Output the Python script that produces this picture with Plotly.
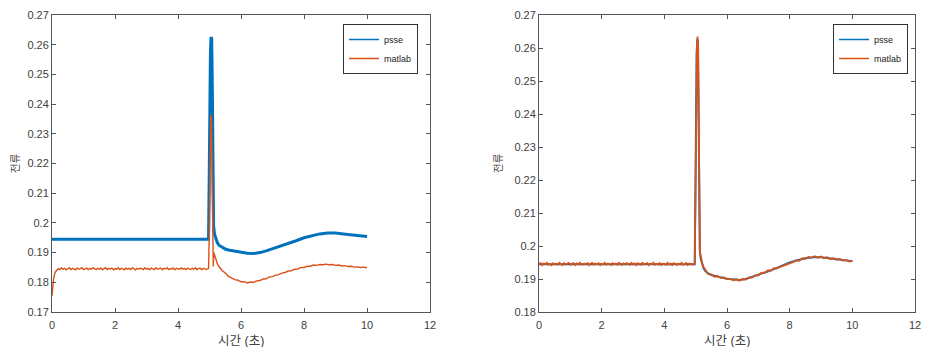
import numpy as np
import plotly.graph_objects as go

# ---------------- data ----------------
# PSSE result (same in both panels)
psse_t = [0.0, 4.97, 4.99, 5.01, 5.03, 5.05, 5.07, 5.09, 5.11, 5.13, 5.16, 5.2, 5.25,
          5.3, 5.4, 5.5, 5.6, 5.8, 6.0, 6.2, 6.4, 6.6, 6.8, 7.0, 7.25, 7.5, 7.75,
          8.0, 8.25, 8.5, 8.75, 9.0, 9.25, 9.5, 9.75, 10.0]
psse_v = [0.1945, 0.1945, 0.2150, 0.2450, 0.2580, 0.2626, 0.2620, 0.2450, 0.2050, 0.1990,
          0.1962, 0.1945, 0.1933, 0.1925, 0.1917, 0.1912, 0.1909, 0.1905, 0.1901, 0.1898,
          0.1897, 0.1900, 0.1906, 0.1913, 0.1921, 0.1930, 0.1940, 0.1950, 0.1957, 0.1963,
          0.1966, 0.1966, 0.1963, 0.1960, 0.1957, 0.1954]

# MATLAB result sampling times
pre_t = list(np.round(np.arange(0.0, 4.96, 0.05), 2))
spike_t = [4.97, 5.0, 5.02, 5.04, 5.06, 5.08, 5.10, 5.12, 5.14, 5.17, 5.2, 5.25]
post_t = list(np.round(np.arange(5.3, 10.05, 0.1), 2))
matlab_t = pre_t + spike_t + post_t

# left panel: MATLAB (before tuning)
matlab_left = [
    0.1755, 0.1812, 0.1834, 0.1841, 0.1846, 0.1843, 0.1848, 0.1844, 0.1847, 0.1842,
    0.1846, 0.1849, 0.1843, 0.1847, 0.1845, 0.1842, 0.1848, 0.1844, 0.1846, 0.1849,
    0.1843, 0.1845, 0.1848, 0.1842, 0.1847, 0.1844, 0.1849, 0.1845, 0.1843, 0.1847,
    0.1844, 0.1848, 0.1842, 0.1846, 0.1849, 0.1843, 0.1847, 0.1845, 0.1848, 0.1842,
    0.1846, 0.1844, 0.1849, 0.1843, 0.1847, 0.1845, 0.1842, 0.1848, 0.1844, 0.1847,
    0.1843, 0.1849, 0.1845, 0.1842, 0.1847, 0.1844, 0.1848, 0.1846, 0.1843, 0.1849,
    0.1844, 0.1847, 0.1842, 0.1848, 0.1845, 0.1843, 0.1849, 0.1844, 0.1846, 0.1848,
    0.1842, 0.1847, 0.1845, 0.1849, 0.1843, 0.1846, 0.1844, 0.1848, 0.1842, 0.1847,
    0.1845, 0.1843, 0.1849, 0.1844, 0.1847, 0.1842, 0.1848, 0.1845, 0.1843, 0.1847,
    0.1844, 0.1849, 0.1843, 0.1846, 0.1848, 0.1842, 0.1847, 0.1845, 0.1843, 0.1846,
    # spike
    0.1846, 0.2000, 0.2300, 0.2365, 0.2350, 0.2100, 0.1870, 0.1853, 0.1900, 0.1888,
    0.1876, 0.1862,
    # recovery
    0.1853, 0.1840, 0.1831, 0.1820, 0.1815, 0.1809, 0.1807, 0.1802, 0.1802, 0.1798,
    0.1801, 0.1800, 0.1805, 0.1806, 0.1811, 0.1812, 0.1818, 0.1819, 0.1824, 0.1826,
    0.1831, 0.1833, 0.1838, 0.1839, 0.1844, 0.1845, 0.1850, 0.1850, 0.1854, 0.1854,
    0.1858, 0.1857, 0.1860, 0.1859, 0.1861, 0.1859, 0.1860, 0.1857, 0.1858, 0.1855,
    0.1856, 0.1853, 0.1854, 0.1851, 0.1852, 0.1850, 0.1851, 0.1849,
]

# right panel: MATLAB (after tuning)
matlab_right = [
    0.1944, 0.1948, 0.1942, 0.1947, 0.1945, 0.1949, 0.1943, 0.1946, 0.1942, 0.1948,
    0.1944, 0.1947, 0.1943, 0.1949, 0.1945, 0.1942, 0.1948, 0.1944, 0.1946, 0.1949,
    0.1943, 0.1945, 0.1948, 0.1942, 0.1947, 0.1944, 0.1949, 0.1945, 0.1943, 0.1947,
    0.1944, 0.1948, 0.1942, 0.1946, 0.1949, 0.1943, 0.1947, 0.1945, 0.1948, 0.1942,
    0.1946, 0.1944, 0.1949, 0.1943, 0.1947, 0.1945, 0.1942, 0.1948, 0.1944, 0.1947,
    0.1943, 0.1949, 0.1945, 0.1942, 0.1947, 0.1944, 0.1948, 0.1946, 0.1943, 0.1949,
    0.1944, 0.1947, 0.1942, 0.1948, 0.1945, 0.1943, 0.1949, 0.1944, 0.1946, 0.1948,
    0.1942, 0.1947, 0.1945, 0.1949, 0.1943, 0.1946, 0.1944, 0.1948, 0.1942, 0.1947,
    0.1945, 0.1943, 0.1949, 0.1944, 0.1947, 0.1942, 0.1948, 0.1945, 0.1943, 0.1947,
    0.1944, 0.1949, 0.1943, 0.1946, 0.1948, 0.1942, 0.1947, 0.1945, 0.1943, 0.1946,
    # spike
    0.1947, 0.2200, 0.2520, 0.2610, 0.2635, 0.2600, 0.2350, 0.2000, 0.1975, 0.1968,
    0.1950, 0.1936,
    # recovery
    0.1928, 0.1915, 0.1914, 0.1907, 0.1909, 0.1903, 0.1905, 0.1899, 0.1901, 0.1896,
    0.1899, 0.1895, 0.1900, 0.1898, 0.1905, 0.1904, 0.1911, 0.1911, 0.1919, 0.1918,
    0.1926, 0.1925, 0.1933, 0.1932, 0.1937, 0.1940, 0.1944, 0.1948, 0.1951, 0.1957,
    0.1955, 0.1963, 0.1961, 0.1967, 0.1964, 0.1969, 0.1964, 0.1968, 0.1963, 0.1966,
    0.1960, 0.1963, 0.1958, 0.1961, 0.1956, 0.1958, 0.1953, 0.1955,
]

x_ticks = [0, 2, 4, 6, 8, 10, 12]
x_tick_text = ["0", "2", "4", "6", "8", "10", "12"]
y_ticks_left = [0.17, 0.18, 0.19, 0.20, 0.21, 0.22, 0.23, 0.24, 0.25, 0.26, 0.27]
y_text_left = ["0.17", "0.18", "0.19", "0.2", "0.21", "0.22", "0.23", "0.24", "0.25", "0.26", "0.27"]
y_ticks_right = [0.18, 0.19, 0.20, 0.21, 0.22, 0.23, 0.24, 0.25, 0.26, 0.27]
y_text_right = ["0.18", "0.19", "0.2", "0.21", "0.22", "0.23", "0.24", "0.25", "0.26", "0.27"]
series_names = ["psse", "matlab"]
x_title = "시간 (초)"
y_title = "전류"

assert len(matlab_t) == len(matlab_left) == len(matlab_right)

# ---------------- figure ----------------
BLUE = "#0072BD"
ORANGE = "#D95319"
AX = "#555555"
TXT = "#404040"
FONT = "Liberation Sans, Arial, Noto Sans CJK KR, sans-serif"

# the page body has an 8 px margin; the figure is sized to fit inside the window
W, H = 917, 339
OFF = 8


def px(x):
    return (x - OFF) / W


def py(y):
    return 1 - (y - OFF) / H


fig = go.Figure()

# left panel
fig.add_trace(go.Scatter(x=psse_t, y=psse_v, mode="lines", line=dict(color=BLUE, width=3),
                         showlegend=False, xaxis="x", yaxis="y"))
fig.add_trace(go.Scatter(x=matlab_t, y=matlab_left, mode="lines", line=dict(color=ORANGE, width=1.4),
                         showlegend=False, xaxis="x", yaxis="y"))
# right panel
fig.add_trace(go.Scatter(x=psse_t, y=psse_v, mode="lines", line=dict(color=BLUE, width=2),
                         showlegend=False, xaxis="x2", yaxis="y2"))
fig.add_trace(go.Scatter(x=matlab_t, y=matlab_right, mode="lines", line=dict(color=ORANGE, width=1.8),
                         showlegend=False, xaxis="x2", yaxis="y2"))

# legend entries (thin lines as in the original legend)
for lg, xa, ya in (("legend", "x", "y"), ("legend2", "x2", "y2")):
    for name, col in zip(series_names, (BLUE, ORANGE)):
        fig.add_trace(go.Scatter(x=[None], y=[None], mode="lines", name=name,
                                 line=dict(color=col, width=1.5), legend=lg,
                                 xaxis=xa, yaxis=ya, showlegend=True))

axis_common = dict(showline=True, linecolor=AX, linewidth=1, mirror="ticks",
                   ticks="inside", ticklen=4, tickcolor=AX, tickwidth=1,
                   showgrid=False, zeroline=False, automargin=False,
                   tickfont=dict(family=FONT, size=11, color=TXT))

x_dom_l = [px(52), px(430)]
x_dom_r = [px(539), px(915)]
y_dom = [py(312), py(15)]

leg_common = dict(xanchor="left", yanchor="top", bgcolor="white",
                  bordercolor="#333333", borderwidth=1, tracegroupgap=0,
                  font=dict(family=FONT, size=9, color="#222222"))

fig.update_layout(
    width=W, height=H,
    margin=dict(l=0, r=0, t=0, b=0, autoexpand=False),
    paper_bgcolor="white", plot_bgcolor="white",
    font=dict(family=FONT, color=TXT),
    xaxis=dict(domain=x_dom_l, range=[0, 12], tickvals=x_ticks, ticktext=x_tick_text,
               anchor="y", ticklabelstandoff=3, **axis_common),
    yaxis=dict(domain=y_dom, range=[0.17, 0.27], tickvals=y_ticks_left, ticktext=y_text_left,
               anchor="x", **axis_common),
    xaxis2=dict(domain=x_dom_r, range=[0, 12], tickvals=x_ticks, ticktext=x_tick_text,
                anchor="y2", ticklabelstandoff=3, **axis_common),
    yaxis2=dict(domain=y_dom, range=[0.18, 0.27], tickvals=y_ticks_right, ticktext=y_text_right,
                anchor="x2", **axis_common),
    legend=dict(x=px(343), y=py(24), **leg_common),
    legend2=dict(x=px(833), y=py(24), **leg_common),
)

# axis titles
for (xc, yx) in ((241, 15), (727, 498)):
    fig.add_annotation(text=x_title, xref="paper", yref="paper", x=px(xc), y=py(341),
                       xanchor="center", yanchor="middle", showarrow=False,
                       font=dict(family=FONT, size=12.5, color=TXT))
    fig.add_annotation(text=y_title, xref="paper", yref="paper", x=px(yx), y=py(163),
                       xanchor="center", yanchor="middle", showarrow=False, textangle=-90,
                       borderpad=0, font=dict(family=FONT, size=10.5, color=TXT))

fig.write_html("out.html")
